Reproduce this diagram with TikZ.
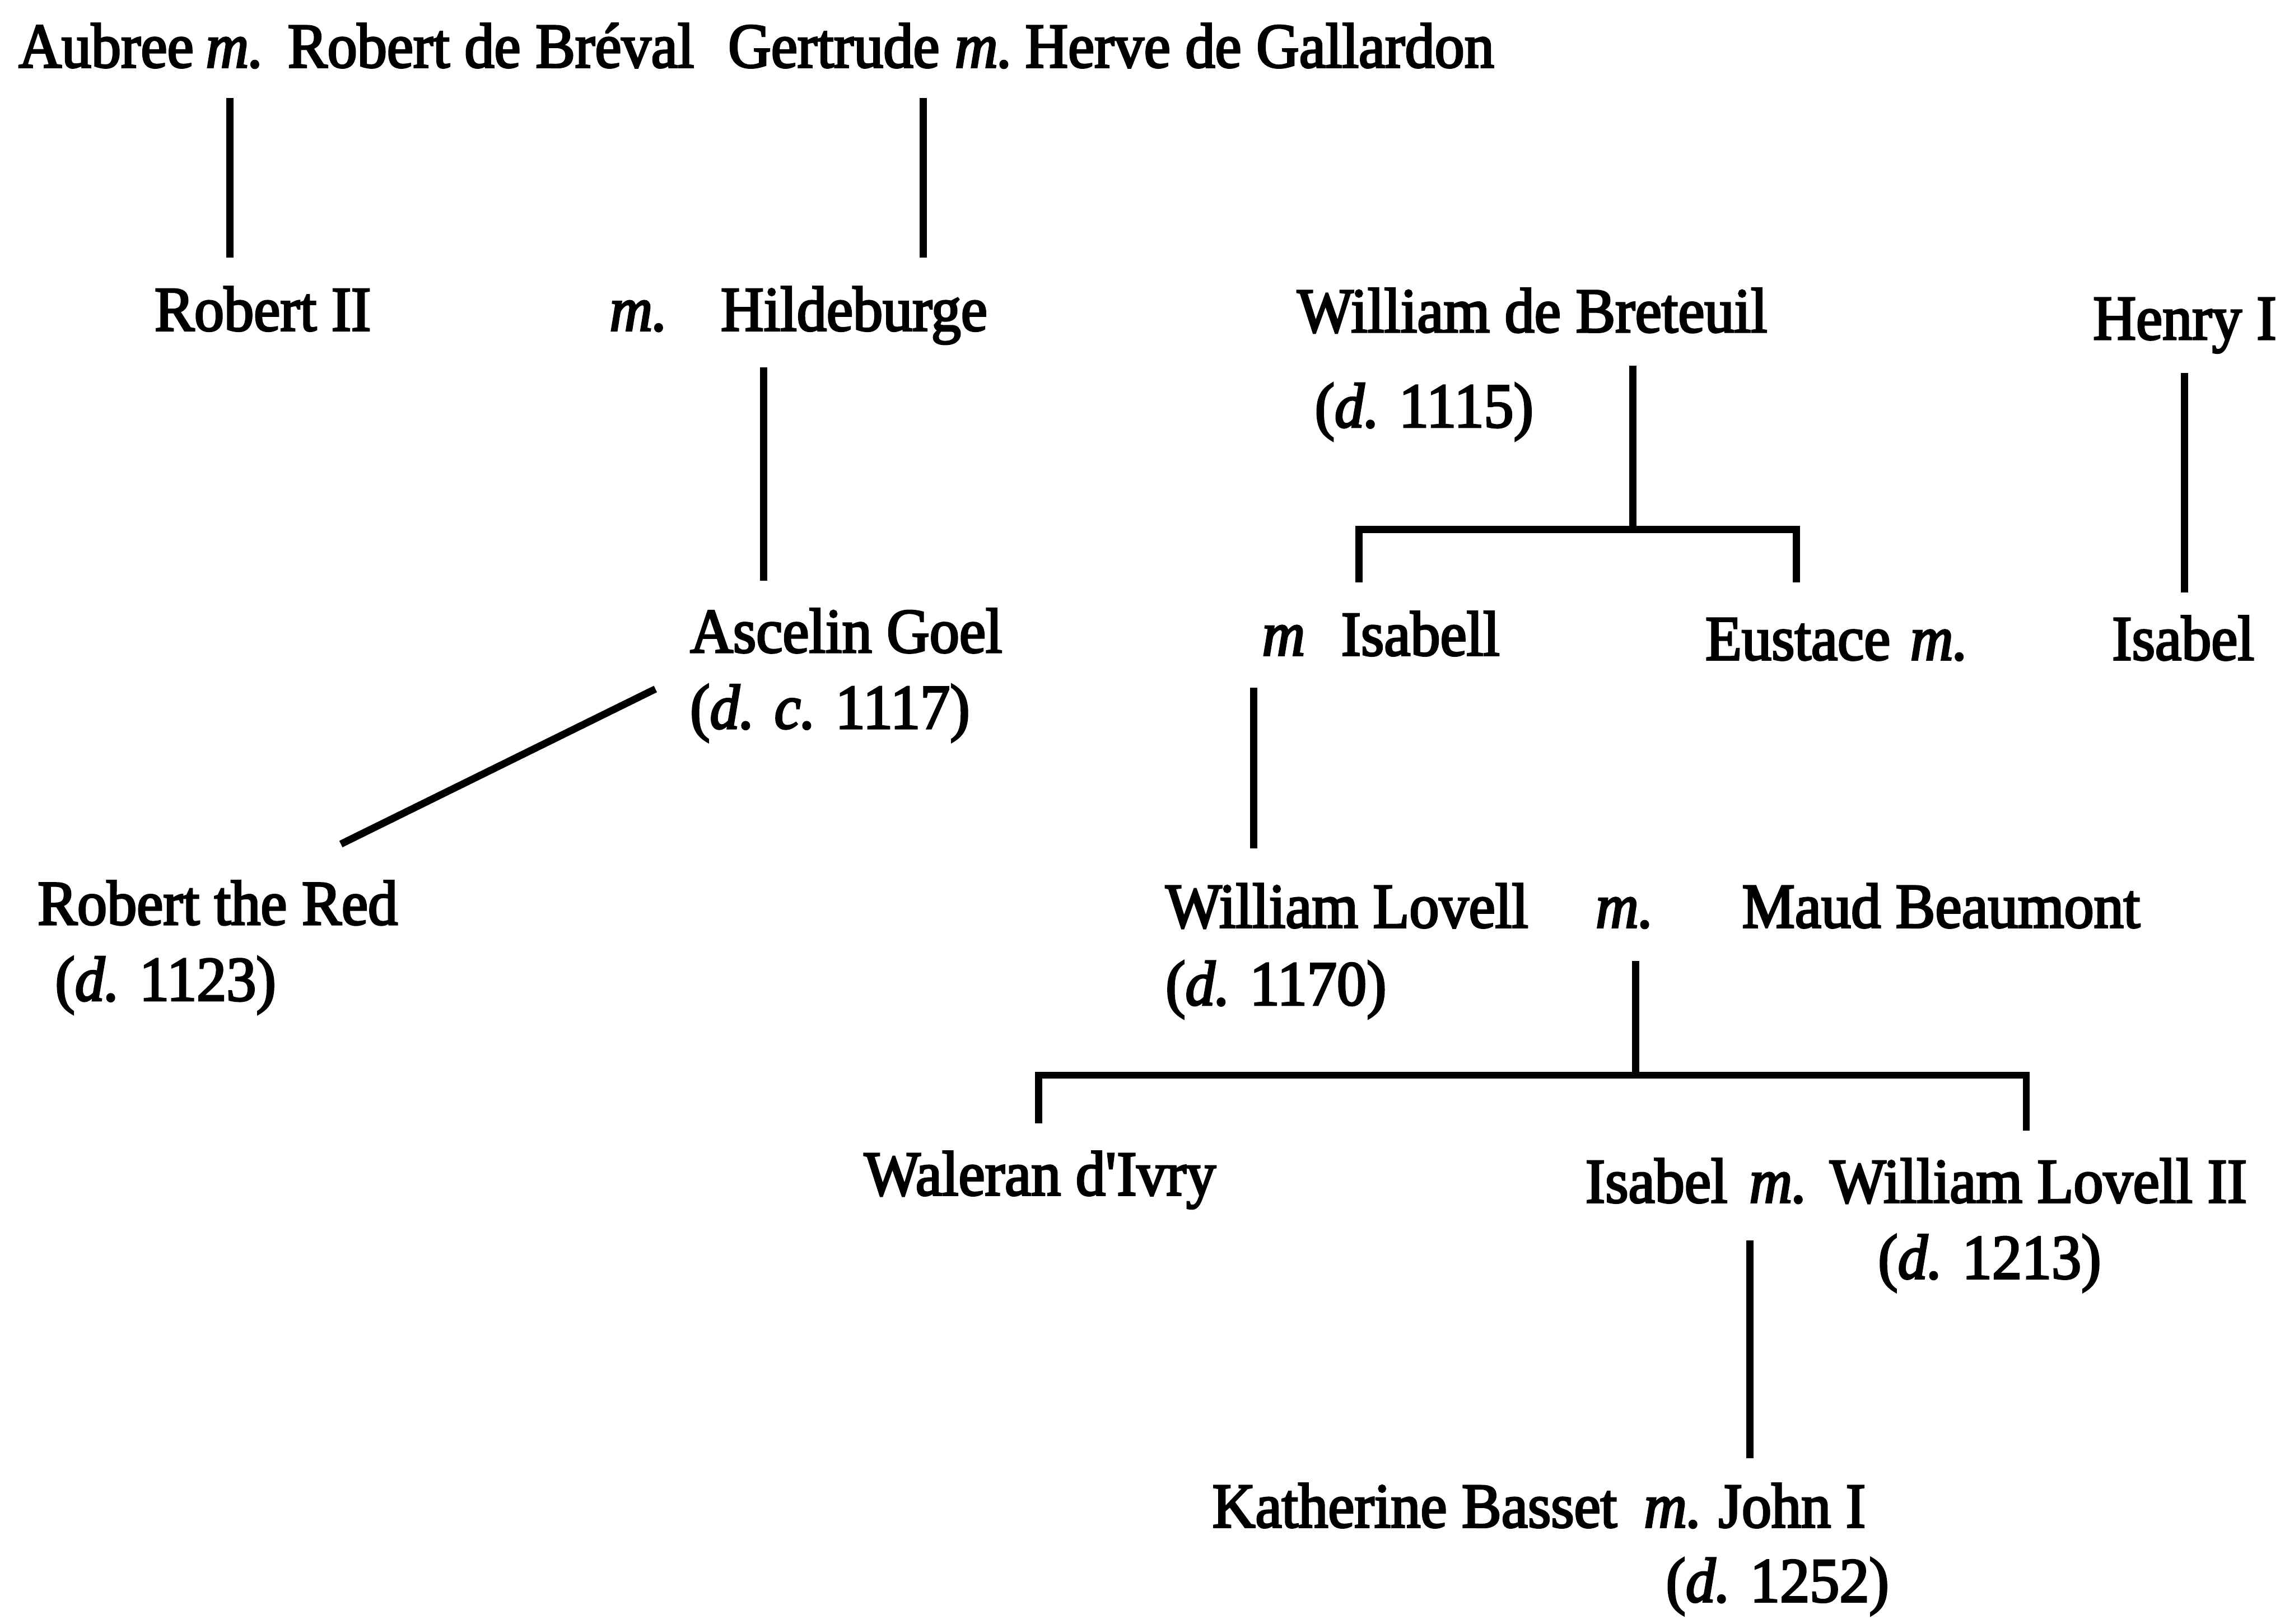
\documentclass[tikz,border=0pt]{standalone}
\usepackage{fontspec}
\setmainfont{Liberation Serif}[FakeBold=3, FakeStretch=0.94]
\usetikzlibrary{calc}

\begin{document}
\begin{tikzpicture}[
  x=0.01cm, y=-0.01cm,
  font=\fontsize{12.3pt}{14pt}\selectfont,
  person/.style={anchor=base west, inner sep=0pt, text height=2.1mm, text depth=0.6mm},
  wed/.style={person, font=\fontsize{12.3pt}{14pt}\selectfont\itshape},
  kin/.style={line width=1.4pt, draw=black},
]
\useasboundingbox (0,0) rectangle (1568,1110);

% =============================== nodes =====================================
\node[person] (aubree)    at (12,46)    {Aubree};
\node[wed]    (mAub)      at (140,46)   {m.};
\node[person] (breval)    at (196,46)   {Robert de Bréval};
\node[person] (gertrude)  at (497,46)   {Gertrude};
\node[wed]    (mGer)      at (652,46)   {m.};
\node[person] (gallardon) at (700,46)   {Herve de Gallardon};

\node[person] (robII)     at (105,226)  {Robert II};
\node[wed]    (mHil)      at (416,226)  {m.};
\node[person] (hilde)     at (492,226)  {Hildeburge};
\node[person] (breteuil)  at (886,227)  {William de Breteuil};
\node[person] (dBret)     at (898,292)  {(\textit{d.} 1115)};
\node[person] (henry)     at (1430,232) {Henry I};

\node[person] (ascelin)   at (471,446)  {Ascelin Goel};
\node[person] (dAsc)      at (471,498)  {(\textit{d.} \textit{c.} 1117)};
\node[wed]    (mIsa)      at (862,448)  {m};
\node[person] (isabell)   at (916,448)  {Isabell};
\node[person] (eustace)   at (1165,451) {Eustace};
\node[wed]    (mEus)      at (1305,451) {m.};
\node[person] (isabelH)   at (1443,451) {Isabel};

\node[person] (robRed)    at (25,632)   {Robert the Red};
\node[person] (dRob)      at (37,684)   {(\textit{d.} 1123)};
\node[person] (lovell)    at (796,634)  {William Lovell};
\node[wed]    (mLov)      at (1090,634) {m.};
\node[person] (maud)      at (1190,634) {Maud Beaumont};
\node[person] (dLov)      at (796,687)  {(\textit{d.} 1170)};

\node[person] (waleran)   at (590,817)  {Waleran d\textquotesingle Ivry};
\node[person] (isabelL)   at (1083,822) {Isabel};
\node[wed]    (mIsL)      at (1195,822) {m.};
\node[person] (lovell2)   at (1250,822) {William Lovell II};
\node[person] (dLov2)     at (1283,874) {(\textit{d.} 1213)};

\node[person] (katherine) at (828,1044) {Katherine Basset};
\node[wed]    (mKat)      at (1123,1044){m.};
\node[person] (john)      at (1174,1044){John I};
\node[person] (dJohn)     at (1138,1095){(\textit{d.} 1252)};

% junctions of the two brackets
\coordinate (jBret) at ($(breteuil.base west)+(230,135)$);
\coordinate (jLov)  at ($(mLov.base west)+(28,101)$);

% =============================== lines =====================================
% Aubree m. Robert de Breval -> Robert II
\draw[kin] ($(mAub.base west)+(17,21)$) -- ($(robII.base west)+(52,-50)$);

% Gertrude m. Herve -> Hildeburge
\draw[kin] ($(mGer.base west)+(-21,21)$) -- ($(hilde.base west)+(139,-50)$);

% Hildeburge -> Ascelin Goel
\draw[kin] ($(hilde.base west)+(30,25)$) -- ($(ascelin.base west)+(51,-49)$);

% Ascelin Goel -> Robert the Red
\draw[kin] ($(dAsc.base west)+(-23,-27)$) -- ($(robRed.base west)+(208,-55)$);

% William de Breteuil -> Isabell, Eustace
\draw[kin] ($(breteuil.base west)+(230,23)$) -- (jBret);
\draw[kin] ($(isabell.base west)+(13,-50)$) |- (jBret)
  -| ($(eustace.base west)+(63,-53)$);

% Henry I -> Isabel
\draw[kin] ($(henry.base west)+(63,23)$) -- ($(isabelH.base west)+(50,-46)$);

% m Isabell -> William Lovell
\draw[kin] ($(mIsa.base west)+(-5,22)$) -- ($(lovell.base west)+(61,-54)$);

% William Lovell m. Maud -> Waleran, Isabel
\draw[kin] ($(mLov.base west)+(28,23)$) -- (jLov);
\draw[kin] ($(waleran.base west)+(120,-49)$) |- (jLov)
  -| ($(lovell2.base west)+(135,-49)$);

% Isabel m. William Lovell II -> John I
\draw[kin] ($(mIsL.base west)+(1,26)$) -- ($(katherine.base west)+(368,-47)$);

\end{tikzpicture}
\end{document}
